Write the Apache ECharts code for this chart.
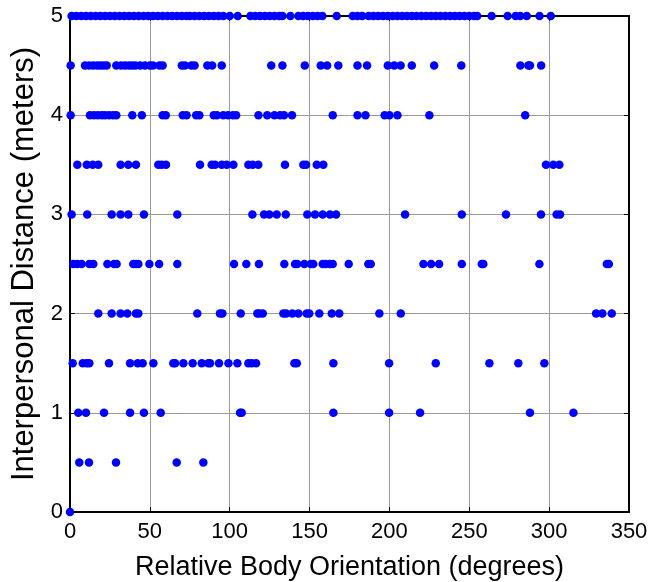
<!DOCTYPE html>
<html>
<head>
<meta charset="utf-8">
<script src="https://cdn.jsdelivr.net/npm/echarts@6/dist/echarts.min.js"></script>
<style>
html,body{margin:0;padding:0;background:#fff;}
#chart{width:663px;height:582px;}
</style>
</head>
<body>
<div id="chart"></div>
<script>
// Distance levels (meters) and the orientation values (degrees) observed at each level
var levels = [5, 4.5, 4, 3.5, 3, 2.5, 2, 1.5, 1, 0.5, 0];
var orient5 = [1, 4, 7, 10, 13, 16, 19, 22, 25, 28, 31, 34, 37, 40, 43, 46, 49, 52, 55, 58, 61, 64, 67, 70, 73, 75,
  78, 81, 84, 87, 90, 93, 96, 100, 105, 113, 116, 119, 122, 125, 128, 131, 133, 138, 143, 146, 149, 152, 155, 158,
  167, 177, 180, 183, 187, 190, 193, 196, 199, 202, 205, 208, 211, 214, 217, 220, 223, 226, 229, 232, 235, 238,
  241, 244, 247, 250, 253, 255, 264, 274, 279, 282, 286, 294, 301];
var orient45 = [0.4, 9.4, 12, 14.5, 17, 19, 21, 23, 29, 32, 34.5, 37, 39, 41, 44, 47, 50, 52, 56, 58, 70, 72, 76, 78,
  86, 89, 95, 126, 133, 147, 157, 161, 168, 180, 186, 199, 203, 207, 214, 228, 245, 282, 287, 288, 295];
var orient4 = [0.4, 12.5, 15, 17.5, 20, 22, 24.5, 27, 29, 39, 45, 58, 60, 70.6, 73, 79, 81, 90, 92, 96, 99, 102, 104,
  118, 123.5, 128, 131.5, 134, 139, 164.5, 180, 185, 197, 200, 205, 225, 285];
var orient35 = [4.6, 10.5, 14.2, 17.7, 31.7, 36.5, 41.3, 55.3, 57.4, 60.1, 81.4, 88.7, 90.8, 95, 98.1, 102.3, 111.7,
  114.4, 117.9, 134.6, 146.1, 147.8, 154.5, 158.6, 298, 302.6, 306.4];
var orient3 = [1, 10.8, 26.1, 31.7, 36.5, 46.3, 67.2, 114.2, 121.5, 124.8, 129.4, 135.1, 148.6, 153.4, 158.2, 162.8,
  166.6, 209.8, 245.3, 273, 294.9, 304.7, 306.8];
var orient25 = [2.1, 4.6, 7.3, 12.1, 14.6, 23.4, 27.6, 29.2, 39.6, 41.3, 42.8, 49.7, 55.8, 67.2, 102.7, 110.4, 118.3,
  134.2, 140.9, 142.3, 146.7, 150.7, 152.3, 158.2, 160.1, 162.8, 164.5, 174.5, 186.8, 188.3, 221.3, 226.1, 231.1,
  245.3, 257.8, 258.8, 293.9, 336.1, 337.4];
var orient2 = [17.7, 26.1, 31.7, 35.9, 41.3, 42.8, 79.7, 93.9, 95.4, 106.9, 117.3, 118.5, 120.7, 133.6, 135.3, 139.2,
  143, 148.2, 149.8, 156.1, 163.9, 168.6, 193.7, 207.1, 329.4, 333.3, 339.2];
var orient15 = [1.7, 8, 10.5, 12.1, 24.4, 37.6, 42.4, 45.5, 52.2, 64.7, 65.8, 71, 76.8, 82.5, 86.6, 87.7, 93.3, 99.2,
  104.8, 111.7, 113.8, 116.5, 140.5, 142, 164.9, 199.8, 229, 262.6, 280.7, 297];
var orient1 = [5.2, 10, 21.3, 37.6, 46.3, 56.8, 106.5, 107.5, 164.9, 199.8, 219.2, 288, 315.2];
var orient05 = [5.8, 11.9, 28.8, 66.8, 83.5];
var orient0 = [0];

var xTicks = [0, 50, 100, 150, 200, 250, 300, 350];
var yTicks = [0, 1, 2, 3, 4, 5];

var byLevel = [orient5, orient45, orient4, orient35, orient3, orient25, orient2, orient15, orient1, orient05, orient0];
var points = [];
levels.forEach(function (lv, i) {
  byLevel[i].forEach(function (x) { points.push([x, lv]); });
});

var FONT = 'Liberation Sans';
var TICKFONT = '"Liberation Sans Narrow", "Liberation Sans"';
var chart = echarts.init(document.getElementById('chart'), null, {renderer: 'canvas'});
chart.setOption({
  animation: false,
  backgroundColor: '#ffffff',
  grid: {left: 70, right: 34, top: 16, bottom: 70, containLabel: false, outerBoundsMode: 'none'},
  xAxis: [{
    type: 'value', min: xTicks[0], max: xTicks[xTicks.length - 1], interval: 50,
    name: 'Relative Body Orientation (degrees)', nameLocation: 'middle', nameGap: 42,
    nameTextStyle: {fontFamily: FONT, fontSize: 27, color: '#000'},
    axisLine: {show: true, onZero: false, lineStyle: {color: '#000', width: 2}},
    axisTick: {show: true, inside: true, length: 5, lineStyle: {color: '#000'}},
    axisLabel: {fontFamily: TICKFONT, fontSize: 22, color: '#000', margin: 9},
    splitLine: {show: true, lineStyle: {color: '#9a9a9a', width: 1}}
  }, {
    type: 'value', position: 'top', min: 0, max: 350, interval: 50,
    axisLine: {show: true, onZero: false, lineStyle: {color: '#000', width: 2}},
    axisTick: {show: true, inside: true, length: 5, lineStyle: {color: '#000'}},
    axisLabel: {show: false}, splitLine: {show: false}
  }],
  yAxis: [{
    type: 'value', min: yTicks[0], max: yTicks[yTicks.length - 1], interval: 1,
    name: 'Interpersonal Distance (meters)', nameLocation: 'middle', nameGap: 30, nameRotate: 90,
    nameTextStyle: {fontFamily: FONT, fontSize: 31, color: '#000'},
    axisLine: {show: true, onZero: false, lineStyle: {color: '#000', width: 2}},
    axisTick: {show: true, inside: true, length: 5, lineStyle: {color: '#000'}},
    axisLabel: {fontFamily: TICKFONT, fontSize: 22, color: '#000', margin: 7},
    splitLine: {show: true, lineStyle: {color: '#9a9a9a', width: 1}}
  }, {
    type: 'value', position: 'right', min: 0, max: 5, interval: 1,
    axisLine: {show: true, onZero: false, lineStyle: {color: '#000', width: 2}},
    axisTick: {show: true, inside: true, length: 5, lineStyle: {color: '#000'}},
    axisLabel: {show: false}, splitLine: {show: false}
  }],
  series: [{
    type: 'scatter', xAxisIndex: 0, yAxisIndex: 0,
    symbol: 'circle', symbolSize: 8.5, clip: false,
    itemStyle: {color: '#0000ff', opacity: 1},
    data: points
  }]
});
</script>
</body>
</html>
